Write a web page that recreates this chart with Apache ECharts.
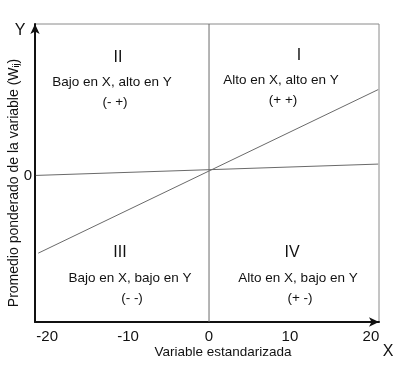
<!DOCTYPE html>
<html>
<head>
<meta charset="utf-8">
<script src="https://cdn.jsdelivr.net/npm/echarts@6/dist/echarts.min.js"></script>
<style>html,body{margin:0;padding:0;background:#fff}#c{width:401px;height:369px}</style>
</head>
<body>
<div id="c"></div>
<script>
// ---- data ----
const xTickLabels = [-20, -10, 0, 10, 20];
const yTickLabels = [0];
const xRange = [-21.5, 21.0];
const yRange = [-18.0, 18.8];
// nearly flat line
const flatLineX = [-21.4, 20.9];
const flatLineY = [0.1, 1.5];
// steep line
const steepLineX = [-21.1, 20.9];
const steepLineY = [-9.5, 10.7];
// vertical divider at x = 0
const dividerX = [0, 0];
const dividerY = [-18.0, 18.8];
// quadrant labels
const quadNumerals = ['II', 'I', 'III', 'IV'];
const quadTexts = ['Bajo en X, alto en Y', 'Alto en X, alto en Y', 'Bajo en X, bajo en Y', 'Alto en X, bajo en Y'];
const quadSigns = ['(- +)', '(+ +)', '(- -)', '(+ -)'];
const xAxisTitle = 'Variable estandarizada';
const yAxisTitle = 'Promedio ponderado de la variable (W';
const yAxisSub = 'ij';

const FONT = 'Liberation Sans, Arial, sans-serif';
const chart = echarts.init(document.getElementById('c'), null, {renderer: 'canvas'});

function pairs(xs, ys) { return xs.map((x, i) => [x, ys[i]]); }

const quadPos = [
  {n: [118, 58], t: [112, 82], s: [115, 102]},
  {n: [299, 56], t: [281, 80], s: [283, 100]},
  {n: [120, 253], t: [130, 278], s: [132, 298]},
  {n: [292, 253], t: [298, 278], s: [300, 298]}
];
const graphics = [];
quadNumerals.forEach((q, i) => {
  const p = quadPos[i];
  graphics.push({type: 'text', x: p.n[0], y: p.n[1], style: {text: q, font: '16px ' + FONT, fill: '#111', align: 'center', verticalAlign: 'middle'}});
  graphics.push({type: 'text', x: p.t[0], y: p.t[1], style: {text: quadTexts[i], font: '13.5px ' + FONT, fill: '#111', align: 'center', verticalAlign: 'middle'}});
  graphics.push({type: 'text', x: p.s[0], y: p.s[1], style: {text: quadSigns[i], font: '13.5px ' + FONT, fill: '#111', align: 'center', verticalAlign: 'middle'}});
});
graphics.push({type: 'text', x: 20, y: 31, style: {text: 'Y', font: '16px ' + FONT, fill: '#111', align: 'center', verticalAlign: 'middle'}});
graphics.push({type: 'text', x: 388, y: 352, style: {text: 'X', font: '16px ' + FONT, fill: '#111', align: 'center', verticalAlign: 'middle'}});
graphics.push({type: 'text', x: 223, y: 352, style: {text: xAxisTitle, font: '13.5px ' + FONT, fill: '#111', align: 'center', verticalAlign: 'middle'}});
graphics.push({
  type: 'text', x: 14, y: 183, rotation: Math.PI / 2,
  style: {
    text: yAxisTitle + '{sub|' + yAxisSub + '}' + ')',
    font: '14px ' + FONT, fill: '#111', align: 'center', verticalAlign: 'middle',
    rich: {sub: {fontSize: 9, fontFamily: FONT, fill: '#111', padding: [6, 0, 0, 0]}}
  }
});

const lineStyle = {color: '#6a6a6a', width: 1};
chart.setOption({
  animation: false,
  backgroundColor: '#fff',
  grid: {left: 35, right: 22, top: 24, bottom: 47, show: true, borderColor: '#8a8a8a', borderWidth: 1},
  xAxis: {
    type: 'value', min: xRange[0], max: xRange[1],
    splitLine: {show: false}, axisTick: {show: false},
    axisLine: {show: true, onZero: false, lineStyle: {color: '#111', width: 2}, symbol: ['none', 'arrow'], symbolSize: [7, 10]},
    axisLabel: {customValues: xTickLabels, color: '#111', fontSize: 15, fontFamily: FONT, margin: 7}
  },
  yAxis: {
    type: 'value', min: yRange[0], max: yRange[1],
    splitLine: {show: false}, axisTick: {show: false},
    axisLine: {show: true, onZero: false, lineStyle: {color: '#111', width: 2}, symbol: ['none', 'arrow'], symbolSize: [7, 10]},
    axisLabel: {customValues: yTickLabels, color: '#111', fontSize: 15, fontFamily: FONT, margin: 3}
  },
  series: [
    {type: 'line', data: pairs(flatLineX, flatLineY), symbol: 'none', lineStyle: lineStyle, silent: true},
    {type: 'line', data: pairs(steepLineX, steepLineY), symbol: 'none', lineStyle: lineStyle, silent: true},
    {type: 'line', data: pairs(dividerX, dividerY), symbol: 'none', lineStyle: lineStyle, silent: true}
  ],
  graphic: graphics
});
</script>
</body>
</html>
